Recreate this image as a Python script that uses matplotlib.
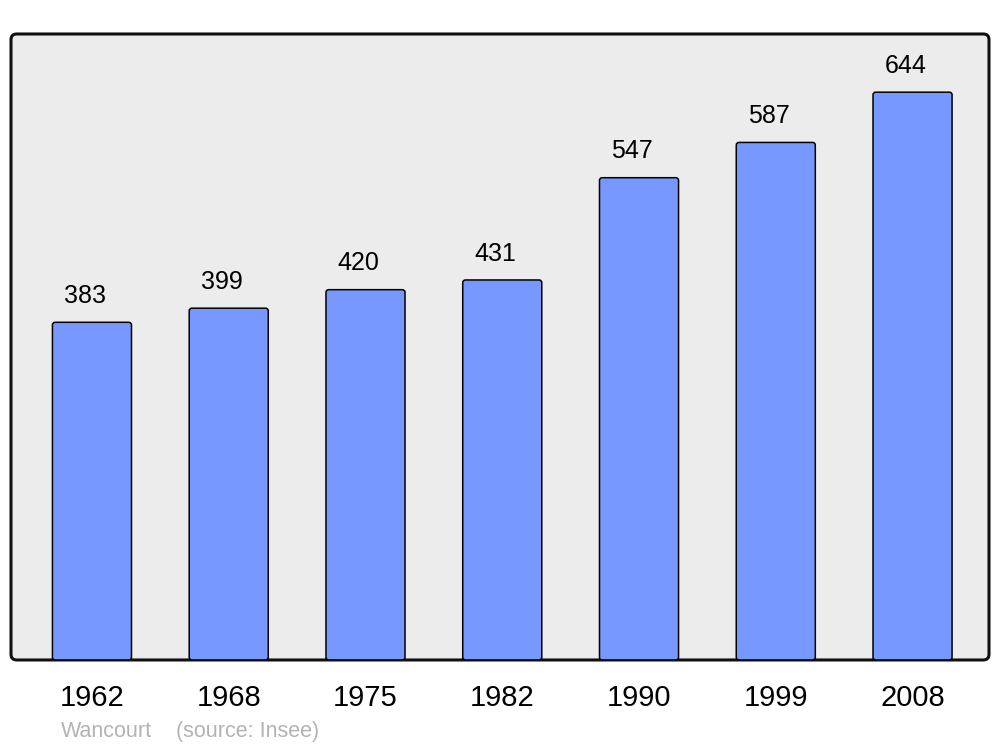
import matplotlib
matplotlib.use('Agg')
import matplotlib.pyplot as plt
from matplotlib.patches import FancyBboxPatch

plt.rcParams['font.family'] = ['Liberation Sans', 'DejaVu Sans']

# data
years = ['1962', '1968', '1975', '1982', '1990', '1999', '2008']
population = [383, 399, 420, 431, 547, 587, 644]
town = 'Wancourt'
source = '(source: Insee)'

fig = plt.figure(figsize=(10, 7.47), dpi=100)
ax = fig.add_axes([0.011, 0.1165, 0.978, 0.838])
ax.set_facecolor('none')
for s in ax.spines.values():
    s.set_visible(False)

# rounded frame behind the bars
frame = FancyBboxPatch((0, 0), 1, 1, boxstyle='round,pad=0,rounding_size=0.006',
                       transform=ax.transAxes, facecolor='#ececec', edgecolor='#111111',
                       linewidth=2.2, zorder=0, clip_on=False, mutation_aspect=1.5)
ax.add_patch(frame)

x = range(len(years))
bars = ax.bar(x, population, width=0.578, color='#7799ff', edgecolor='black',
              linewidth=1.1, zorder=2)

ax.set_xlim(-0.592, 6.559)
ax.set_ylim(0, 710)

# swap bars for slightly rounded boxes
aspect = (710 / 626.0) / (7.151 / 978.0)
for b in bars:
    b.set_visible(False)
    fb = FancyBboxPatch((b.get_x(), b.get_y()), b.get_width(), b.get_height(),
                        boxstyle='round,pad=0,rounding_size=0.02',
                        mutation_aspect=aspect, facecolor='#7799ff',
                        edgecolor='black', linewidth=1.1, zorder=2)
    ax.add_patch(fb)

# value labels
for i, v in enumerate(population):
    ax.annotate(str(v), (i, v), xytext=(-5, 14), textcoords='offset points',
                ha='center', va='baseline', fontsize=18)

ax.set_xticks(list(x))
ax.set_xticklabels(years, fontsize=21)
ax.tick_params(axis='x', length=0, pad=17)
ax.set_yticks([])

fig.text(0.061, 0.0135, town, color='#b3b3b3', fontsize=15.5, va='baseline')
fig.text(0.176, 0.0135, source, color='#b3b3b3', fontsize=15.5, va='baseline')

fig.savefig('out.png', dpi=100)
